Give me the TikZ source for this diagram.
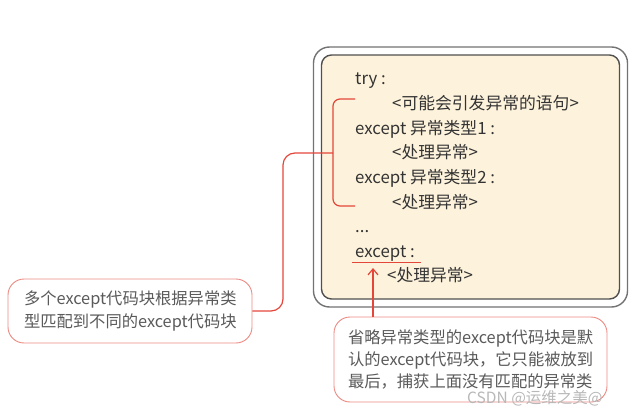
\documentclass[tikz,border=0pt]{standalone}
\usepackage{fontspec}
\setmainfont{Noto Sans CJK SC}
\usepackage{xcolor}
\usepackage{tikz}
\usetikzlibrary{arrows.meta, positioning}
\definecolor{codeFill}{RGB}{253, 242, 219}
\definecolor{codeText}{RGB}{51, 51, 51}
\definecolor{noteText}{RGB}{90, 90, 90}
\definecolor{noteLine}{RGB}{236, 138, 132}
\definecolor{linkRed}{RGB}{228, 70, 58}

\begin{document}
\begin{tikzpicture}[
    x=1pt, y=-1pt,
    code/.style={anchor=base west, inner sep=0pt, text=codeText, font=\fontsize{16.8}{20}\selectfont},
    note/.style={draw=noteLine, line width=0.9pt, fill=white, rounded corners=16pt, align=left,
                 text=noteText, font=\fontsize{16.3}{22.4}\selectfont, inner ysep=4pt},
    link/.style={draw=linkRed, line width=1.2pt}
]
    \useasboundingbox (0,0) rectangle (642,414);

    % code box
    \node[draw={rgb,255:red,115;green,115;blue,115}, line width=1.4pt, fill=white, rounded corners=16pt,
          minimum width=314pt, minimum height=260pt, inner sep=0pt] (outer) at (470.5,177) {};
    \node[draw={rgb,255:red,80;green,80;blue,80}, line width=1.4pt, fill=codeFill, rounded corners=10pt,
          minimum width=298pt, minimum height=244pt, inner sep=0pt] (inner) at (470.5,177) {};

    \node[code] (try) at (355,85) {try :};
    \node[code] (stmt) at (392,109.6) {<可能会引发异常的语句>};
    \node[code] (exc1) at (355,134.2) {except 异常类型1 :};
    \node[code] (hdl1) at (392,158.8) {<处理异常>};
    \node[code] (exc2) at (355,183.4) {except 异常类型2 :};
    \node[code] (hdl2) at (392,208) {<处理异常>};
    \node[code] (dots) at (355,232.6) {...};
    \node[code] (dflt) at (355,257.2) {except :};
    \node[code] (hdl3) at (387,281.8) {<处理异常>};

    % bracket and underline
    \draw[link, rounded corners=7pt] (355,99) -- (333,99) -- (333,206) -- (355,206);
    \draw[link, line width=0.9pt] (352,262) -- (421,262);

    % notes
    \node[note, text width=212pt, inner xsep=16pt, minimum height=64pt] (multi) at (130,311)
        {多个except代码块根据异常类\\型匹配到不同的except代码块};
    \node[note, text width=245pt, inner xsep=14pt, minimum height=85pt] (default) at (470.5,359.5)
        {省略异常类型的except代码块是默\\认的except代码块，它只能被放到\\最后，捕获上面没有匹配的异常类};

    \coordinate (brk) at (333,153);
    \coordinate (bend) at (283,153);
    \coordinate (tip) at (373,268);

    \draw[link, rounded corners=12pt] (multi.east) -| (bend) -- (brk);
    \draw[link, -{Straight Barb[length=6pt, width=10pt]}] (default.north -| tip) -- (tip);

    \node[anchor=west, inner sep=0pt, text=black!28, font=\fontsize{15.5}{17}\selectfont] (mark) at (467,398.5) {CSDN @运维之美@};
\end{tikzpicture}
\end{document}
